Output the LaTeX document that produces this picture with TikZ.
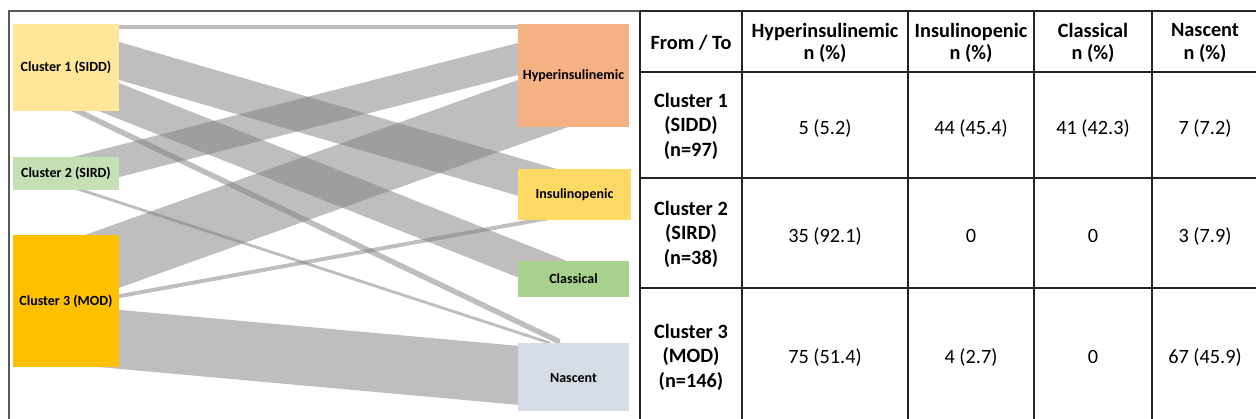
\documentclass[tikz,border=0pt]{standalone}
\usepackage{fontspec}
\setmainfont{Carlito}
\begin{document}
\begin{tikzpicture}[x=1pt,y=-1pt,
  band/.style={fill={rgb,255:red,127;green,127;blue,127},fill opacity=0.5,draw=none},
  boxlab/.style={font=\fontsize{14}{16}\selectfont\bfseries},
  hcell/.style={align=center,font=\fontsize{20.3}{22.5}\selectfont\bfseries},
  rcell/.style={align=center,font=\fontsize{20.3}{24.5}\selectfont\bfseries},
  dcell/.style={align=center,font=\fontsize{20.3}{24}\selectfont},
  tline/.style={line width=1.4pt,black!85}]
\useasboundingbox (0,0) rectangle (1256,419);
\fill[white] (0,0) rectangle (1256,419);
% ---- bands ----
\newcommand{\flowband}[5]{\fill[band] (#1,#2) -- (#3,#4) -- (#3,#4+#5) -- (#1,#2+#5) -- cycle;}
\flowband{65}{25}{573}{25}{4}
\flowband{65}{26.3}{573}{173.7}{38}
\flowband{65}{61.6}{565}{260.1}{36}
\flowband{70}{104.4}{560}{339}{6}
\flowband{70}{157.7}{573}{28.9}{32}
\flowband{75}{186.5}{550}{341.5}{3}
\flowband{65}{242.2}{573}{60.3}{65}
\flowband{65}{304}{573}{211.6}{4}
\flowband{65}{305}{573}{350.8}{59}
% ---- boxes ----
\fill[fill={rgb,255:red,255;green,230;blue,153}] (13,24) rectangle (119,111);
\node[boxlab] (c1) at (66,67.5) {Cluster 1 (SIDD)};
\fill[fill={rgb,255:red,197;green,224;blue,180}] (13,157) rectangle (119,190);
\node[boxlab] (c2) at (66,173.5) {Cluster 2 (SIRD)};
\fill[fill={rgb,255:red,255;green,192;blue,0}] (13,235) rectangle (119,367);
\node[boxlab] (c3) at (66,301) {Cluster 3 (MOD)};
\fill[fill={rgb,255:red,244;green,177;blue,131}] (518,24) rectangle (629,127);
\node[boxlab] (hy) at (573.5,76) {Hyperinsulinemic};
\fill[fill={rgb,255:red,255;green,217;blue,102}] (518,169) rectangle (631,220);
\node[boxlab] (in) at (574.5,194.5) {Insulinopenic};
\fill[fill={rgb,255:red,169;green,209;blue,142}] (518,261) rectangle (629,297);
\node[boxlab] (cl) at (573.5,279) {Classical};
\fill[fill={rgb,255:red,214;green,220;blue,229}] (518,343) rectangle (629,411);
\node[boxlab] (na) at (573.5,378) {Nascent};
% ---- panel frame ----
\draw[line width=1.2pt,black!65] (9,420) -- (9,11) -- (640,11);
% ---- table ----
\draw[tline] (640,11) -- (1256,11);
\draw[tline] (640,72) -- (1256,72);
\draw[tline] (640,178) -- (1256,178);
\draw[tline] (640,288) -- (1256,288);
\foreach \xx in {640,742,908,1034,1152} \draw[tline] (\xx,11) -- (\xx,420);
\node[hcell] (h0) at (691,43) {From / To};
\node[hcell] (h1) at (825,43) {Hyperinsulinemic\\n (\%)};
\node[hcell] (h2) at (971,43) {Insulinopenic\\n (\%)};
\node[hcell] (h3) at (1093,43) {Classical\\n (\%)};
\node[hcell] (h4) at (1205,43) {Nascent\\n (\%)};
\node[rcell] (r1) at (691,126) {Cluster 1\\(SIDD)\\(n=97)};
\node[rcell] (r2) at (691,234) {Cluster 2\\(SIRD)\\(n=38)};
\node[rcell] (r3) at (691,357) {Cluster 3\\(MOD)\\(n=146)};
\node[dcell] (d11) at (825,128) {5 (5.2)};
\node[dcell] (d12) at (971,128) {44 (45.4)};
\node[dcell] (d13) at (1093,128) {41 (42.3)};
\node[dcell] (d14) at (1205,128) {7 (7.2)};
\node[dcell] (d21) at (825,236) {35 (92.1)};
\node[dcell] (d22) at (971,236) {0};
\node[dcell] (d23) at (1093,236) {0};
\node[dcell] (d24) at (1205,236) {3 (7.9)};
\node[dcell] (d31) at (825,357) {75 (51.4)};
\node[dcell] (d32) at (971,357) {4 (2.7)};
\node[dcell] (d33) at (1093,357) {0};
\node[dcell] (d34) at (1205,357) {67 (45.9)};
\end{tikzpicture}
\end{document}
